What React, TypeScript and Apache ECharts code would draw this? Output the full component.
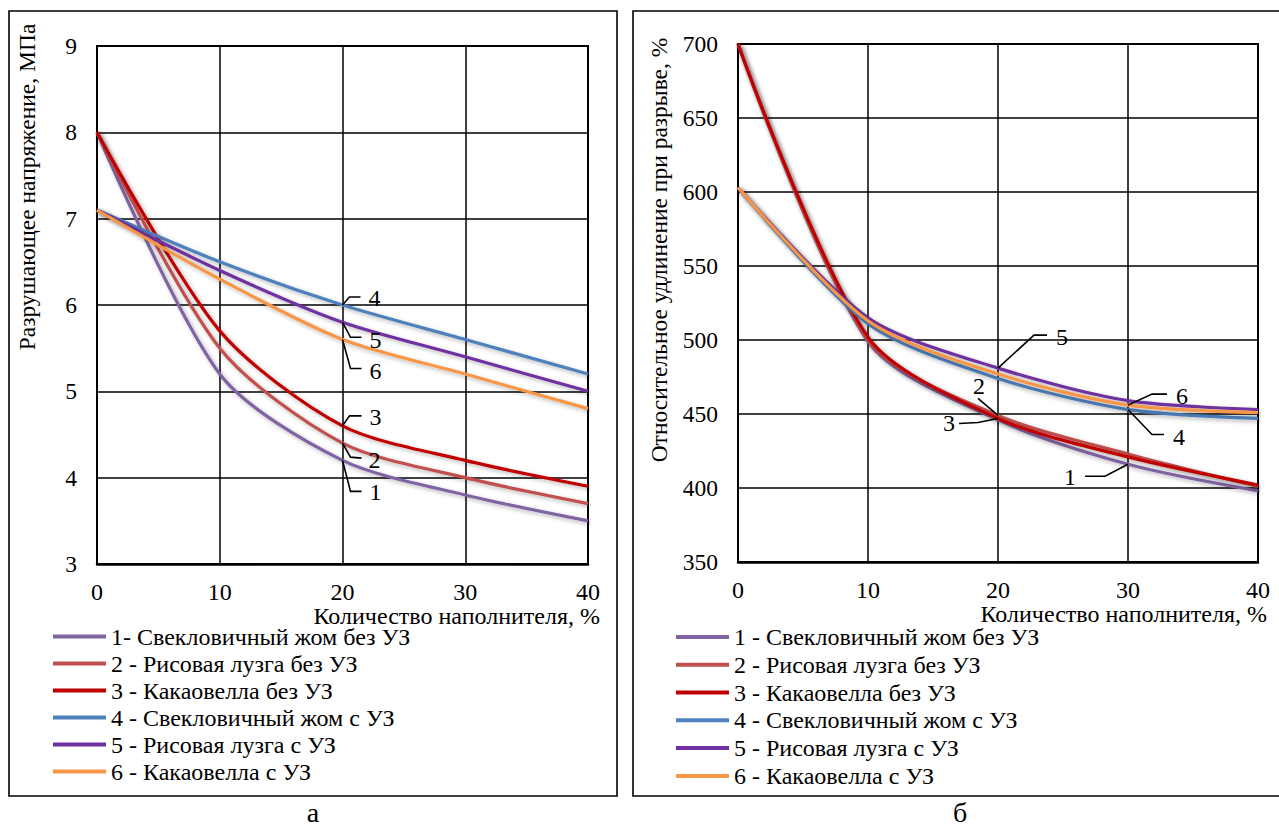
import React, { useEffect, useRef } from "react";
import * as echarts from "echarts";

// Filler content, %
const fillerPct = [0, 10, 20, 30, 40];

const namesStress = [
  "1- Свекловичный жом без УЗ",
  "2 - Рисовая лузга без УЗ",
  "3 - Какаовелла без УЗ",
  "4 - Свекловичный жом с УЗ",
  "5 - Рисовая лузга с УЗ",
  "6 - Какаовелла с УЗ",
];
const namesElong = [
  "1 - Свекловичный жом без УЗ",
  "2 - Рисовая лузга без УЗ",
  "3 - Какаовелла без УЗ",
  "4 - Свекловичный жом с УЗ",
  "5 - Рисовая лузга с УЗ",
  "6 - Какаовелла с УЗ",
];

const lineColors = ["#8064A2", "#C0504D", "#C00000", "#4F81BD", "#7030A0", "#F79646"];

// Разрушающее напряжение, МПа
const stressBeetNoUS = [8.0, 5.2, 4.2, 3.8, 3.5];
const stressRiceNoUS = [8.0, 5.5, 4.4, 4.0, 3.7];
const stressCocoaNoUS = [8.0, 5.7, 4.6, 4.2, 3.9];
const stressBeetUS = [7.1, 6.5, 6.0, 5.6, 5.2];
const stressRiceUS = [7.1, 6.4, 5.8, 5.4, 5.0];
const stressCocoaUS = [7.1, 6.3, 5.6, 5.2, 4.8];

// Относительное удлинение при разрыве, %
const elongBeetNoUS = [700, 499, 446, 416, 398];
const elongRiceNoUS = [700, 500, 449, 423, 401];
const elongCocoaNoUS = [700, 502, 447, 421, 402];
const elongBeetUS = [603, 511, 474, 453, 447];
const elongRiceUS = [603, 515, 481, 459, 453];
const elongCocoaUS = [603, 513, 477, 456, 451];

const stressSets = [stressBeetNoUS, stressRiceNoUS, stressCocoaNoUS, stressBeetUS, stressRiceUS, stressCocoaUS];
const elongSets = [elongBeetNoUS, elongRiceNoUS, elongCocoaNoUS, elongBeetUS, elongRiceUS, elongCocoaUS];

const stressAxis = { min: 3, max: 9, step: 1 };
const elongAxis = { min: 350, max: 700, step: 50 };
const fillerAxis = { min: 0, max: 40, step: 10 };

// Numbered callouts: which curve, at which filler content, and the leader-line shape
type Callout = { label: string; series: number; x: number; path: [number, number][]; text: [number, number] };

const stressCallouts: Callout[] = [
  { label: "4", series: 3, x: 20, path: [[7, -8], [18, -8]], text: [32, -7] },
  { label: "5", series: 4, x: 20, path: [[8, 15], [19, 15]], text: [33, 18] },
  { label: "6", series: 5, x: 20, path: [[8, 29], [19, 29]], text: [33, 31] },
  { label: "3", series: 2, x: 20, path: [[7, -10], [19, -10]], text: [33, -9] },
  { label: "2", series: 1, x: 20, path: [[8, 14], [19, 15]], text: [32, 17] },
  { label: "1", series: 0, x: 20, path: [[8, 31], [19, 31]], text: [33, 32] },
];

const elongCallouts: Callout[] = [
  { label: "5", series: 4, x: 20, path: [[36, -33], [49, -33]], text: [64, -31] },
  { label: "2", series: 1, x: 20, path: [[-20, -17]], text: [-19, -29] },
  { label: "3", series: 2, x: 20, path: [[-20, 4], [-39, 5]], text: [-49, 5] },
  { label: "6", series: 5, x: 30, path: [[24, -11], [39, -11]], text: [54, -9] },
  { label: "4", series: 3, x: 30, path: [[24, 25], [36, 25]], text: [51, 27] },
  { label: "1", series: 0, x: 30, path: [[-23, 12], [-43, 12]], text: [-58, 13] },
];

const SERIF = "Liberation Serif";

function axisX(gridIndex: number) {
  return {
    type: "value" as const,
    gridIndex,
    min: fillerAxis.min,
    max: fillerAxis.max,
    interval: fillerAxis.step,
    axisLine: { show: true, lineStyle: { color: "#000", width: 2.5 } },
    axisTick: { show: false },
    axisLabel: { color: "#000", fontFamily: SERIF, fontSize: 24, margin: 16 },
    splitLine: { show: true, lineStyle: { color: "#000", width: 1.5 } },
  };
}

function axisY(gridIndex: number, cfg: { min: number; max: number; step: number }) {
  return {
    type: "value" as const,
    gridIndex,
    min: cfg.min,
    max: cfg.max,
    interval: cfg.step,
    axisLine: { show: true, lineStyle: { color: "#000", width: 2 } },
    axisTick: { show: false },
    axisLabel: { color: "#000", fontFamily: SERIF, fontSize: 23.5, margin: 20 },
    splitLine: { show: true, lineStyle: { color: "#000", width: 1.5 } },
  };
}

function makeSeries(gridIndex: number, names: string[], sets: number[][]) {
  return sets.map((vals, i) => ({
    type: "line" as const,
    name: names[i],
    xAxisIndex: gridIndex,
    yAxisIndex: gridIndex,
    data: fillerPct.map((x, j) => [x, vals[j]]),
    smooth: 0.28,
    showSymbol: false,
    symbol: "none",
    itemStyle: { color: lineColors[i] },
    lineStyle: {
      color: lineColors[i],
      width: 3.2,
      shadowColor: "rgba(0,0,0,0.3)",
      shadowBlur: 4,
      shadowOffsetX: 2,
      shadowOffsetY: 2,
    },
    z: 3 + i,
  }));
}

function makeLegend(left: number, top: number, names: string[], lineHeight: number) {
  return {
    orient: "vertical" as const,
    left,
    top,
    padding: 0,
    itemGap: 0,
    icon: "rect",
    itemWidth: 53,
    itemHeight: 4,
    selectedMode: false,
    data: names,
    textStyle: { color: "#000", fontFamily: SERIF, fontSize: 24, lineHeight },
  };
}

export default function App() {
  const ref = useRef<HTMLDivElement>(null);

  useEffect(() => {
    if (!ref.current) return;
    const chart = echarts.init(ref.current, undefined, { renderer: "svg" });

    chart.setOption({
      animation: false,
      grid: [
        { left: 97, top: 46, width: 491, height: 518, show: true, borderColor: "#000", borderWidth: 2, backgroundColor: "transparent" },
        { left: 738, top: 44, width: 520, height: 518, show: true, borderColor: "#000", borderWidth: 2, backgroundColor: "transparent" },
      ],
      xAxis: [axisX(0), axisX(1)],
      yAxis: [axisY(0, stressAxis), axisY(1, elongAxis)],
      legend: [makeLegend(53, 623, namesStress, 27), makeLegend(676, 623, namesElong, 27.8)],
      series: [...makeSeries(0, namesStress, stressSets), ...makeSeries(1, namesElong, elongSets)],
    });

    const callouts = (gridIndex: number, sets: number[][], list: Callout[]) =>
      list.flatMap((c) => {
        const idx = fillerPct.indexOf(c.x);
        const [px, py] = chart.convertToPixel({ gridIndex }, [c.x, sets[c.series][idx]]) as number[];
        const pts = [[px, py], ...c.path.map(([dx, dy]) => [px + dx, py + dy])];
        return [
          { type: "polyline", z: 50, shape: { points: pts }, style: { stroke: "#000", lineWidth: 1.6, fill: "none" } },
          {
            type: "text",
            z: 50,
            x: px + c.text[0],
            y: py + c.text[1],
            style: { text: c.label, fill: "#000", fontFamily: SERIF, fontSize: 24, align: "center", verticalAlign: "middle" },
          },
        ];
      });

    const txt = (x: number, y: number, text: string, size: number, align = "center", rotation = 0) => ({
      type: "text",
      x,
      y,
      z: 50,
      rotation,
      style: { text, fill: "#000", fontFamily: SERIF, fontSize: size, align, verticalAlign: "middle" },
    });

    chart.setOption({
      graphic: [
        { type: "rect", z: 40, shape: { x: 9, y: 11, width: 608, height: 785 }, style: { fill: "none", stroke: "#000", lineWidth: 1.6 } },
        { type: "rect", z: 40, shape: { x: 633, y: 11, width: 660, height: 785 }, style: { fill: "none", stroke: "#000", lineWidth: 1.6 } },
        txt(27, 187, "Разрушающее напряжение, МПа", 23.5, "center", Math.PI / 2),
        txt(659, 250, "Относительное удлинение при разрыве, %", 23.5, "center", Math.PI / 2),
        txt(600, 616, "Количество наполнителя, %", 24, "right"),
        txt(1267, 614, "Количество наполнителя, %", 24, "right"),
        txt(313, 812, "а", 28),
        txt(960, 812, "б", 28),
        ...callouts(0, stressSets, stressCallouts),
        ...callouts(1, elongSets, elongCallouts),
      ],
    });

    return () => chart.dispose();
  }, []);

  return <div ref={ref} style={{ position: "absolute", left: 0, top: 0, width: 1279, height: 827 }} />;
}
